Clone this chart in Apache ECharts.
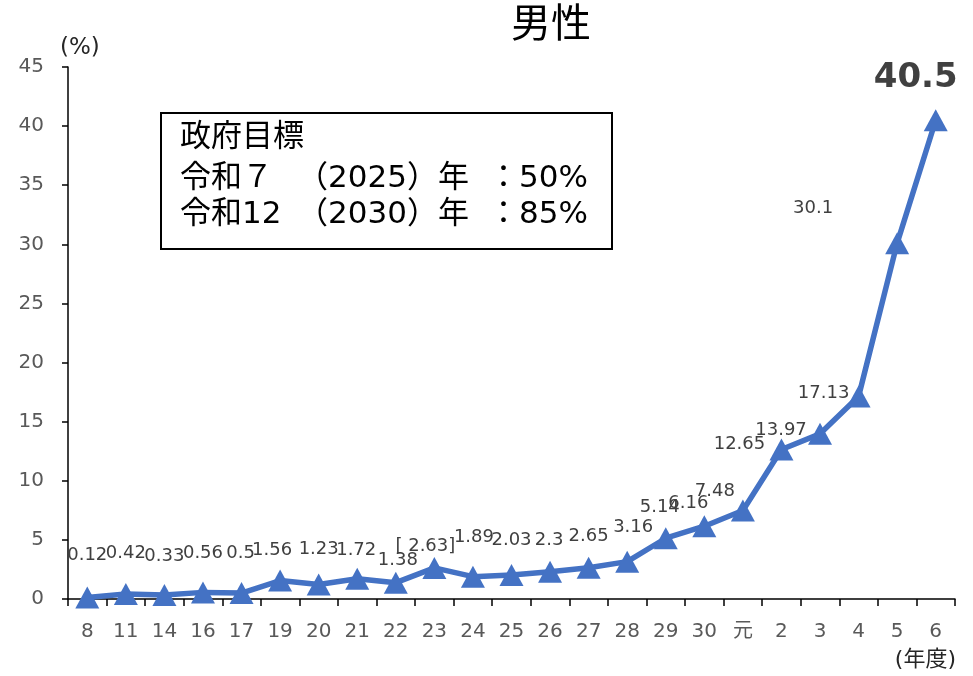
<!DOCTYPE html>
<html>
<head>
<meta charset="utf-8">
<script src="https://cdn.jsdelivr.net/npm/echarts@6/dist/echarts.min.js"></script>
<style>
html,body{margin:0;padding:0;background:#fff;}
#main{width:973px;height:676px;}
</style>
</head>
<body>
<div id="main"></div>
<script>
const categories = ['8','11','14','16','17','19','20','21','22','23','24','25','26','27','28','29','30','元','2','3','4','5','6'];
const values = [0.12,0.42,0.33,0.56,0.5,1.56,1.23,1.72,1.38,2.63,1.89,2.03,2.3,2.65,3.16,5.14,6.16,7.48,12.65,13.97,17.13,30.1,40.5];
const yTicks = {min:0, max:45, interval:5};
const titleText = '男性';
const yUnit = '(%)';
const xUnit = '(年度)';
const boxTitle = '政府目標';
const targetEras = ['令和７','令和12'];
const targetYears = ['（2025）年','（2030）年'];
const targetRates = ['：50%','：85%'];

// label placement (presentation only)
const labelOffsets = [[0,-42],[0,-41],[0,-39],[0,-39],[-1,-40],[-8,-30],[0,-35],[-1,-28],[2,-22],[-9,-22],[1,-39],[0,-35],[-1,-31],[0,-31],[6,-34],[-6,-31],[-16,-23],[-28,-19],[-42,-5],[-39,-4],[-35,-3],[-84,-35],[-20,-42]];

const FONT = '"DejaVu Sans","Noto Sans CJK JP",sans-serif';
const chart = echarts.init(document.getElementById('main'));
const lastIdx = values.length - 1;
const seriesData = values.map((v,i)=>{
  const item = {value:v, label:{offset:labelOffsets[i]}};
  if(i===lastIdx){ item.label.fontSize = 34; item.label.fontWeight = 'bold'; }
  return item;
});

const boxText = (t,x,y)=>({type:'text',x:x,y:y,style:{text:t,fontSize:31,fontFamily:FONT,fill:'#000',textVerticalAlign:'middle'}});
const graphics = [
  {type:'text',left:60,top:37,style:{text:yUnit,fontSize:23,fontFamily:FONT,fill:'#262626'}},
  {type:'text',right:17,top:649,style:{text:xUnit,fontSize:22,fontFamily:FONT,fill:'#262626'}},
  {type:'rect',shape:{x:161,y:113,width:451,height:136},style:{fill:'#fff',stroke:'#000',lineWidth:2}},
  boxText(boxTitle,180,138)
];
const lineY = [179,215];
for(let i=0;i<targetEras.length;i++){
  graphics.push(boxText(targetEras[i],180,lineY[i]));
  graphics.push(boxText(targetYears[i],297,lineY[i]));
  graphics.push(boxText(targetRates[i],488,lineY[i]));
}

chart.setOption({
  animation:false,
  backgroundColor:'#fff',
  title:{text:titleText,left:546,top:2,textAlign:'center',textStyle:{fontFamily:FONT,fontSize:40,fontWeight:'normal',color:'#000'}},
  grid:{left:68,right:18,top:67,bottom:77},
  xAxis:{
    type:'category',data:categories,boundaryGap:true,
    axisLine:{lineStyle:{color:'#000',width:1.5}},
    axisTick:{show:true,length:7,lineStyle:{color:'#000',width:1.5}},
    axisLabel:{color:'#595959',fontSize:20,fontFamily:FONT,margin:23}
  },
  yAxis:{
    type:'value',min:yTicks.min,max:yTicks.max,interval:yTicks.interval,
    splitLine:{show:false},
    axisLine:{show:true,lineStyle:{color:'#000',width:1.5}},
    axisTick:{show:true,length:6,lineStyle:{color:'#000',width:1.5}},
    axisLabel:{color:'#595959',fontSize:20,fontFamily:FONT,margin:24}
  },
  series:[{
    type:'line',data:seriesData,
    symbol:'triangle',symbolSize:[24,22],
    itemStyle:{color:'#4472C4'},
    lineStyle:{color:'#4472C4',width:5.5},
    label:{show:true,position:'inside',color:'#404040',fontSize:18,fontFamily:FONT,
      formatter:p=> p.dataIndex===9 ? '[ '+p.value+']' : String(p.value)}
  }],
  graphic:graphics
});
</script>
</body>
</html>
